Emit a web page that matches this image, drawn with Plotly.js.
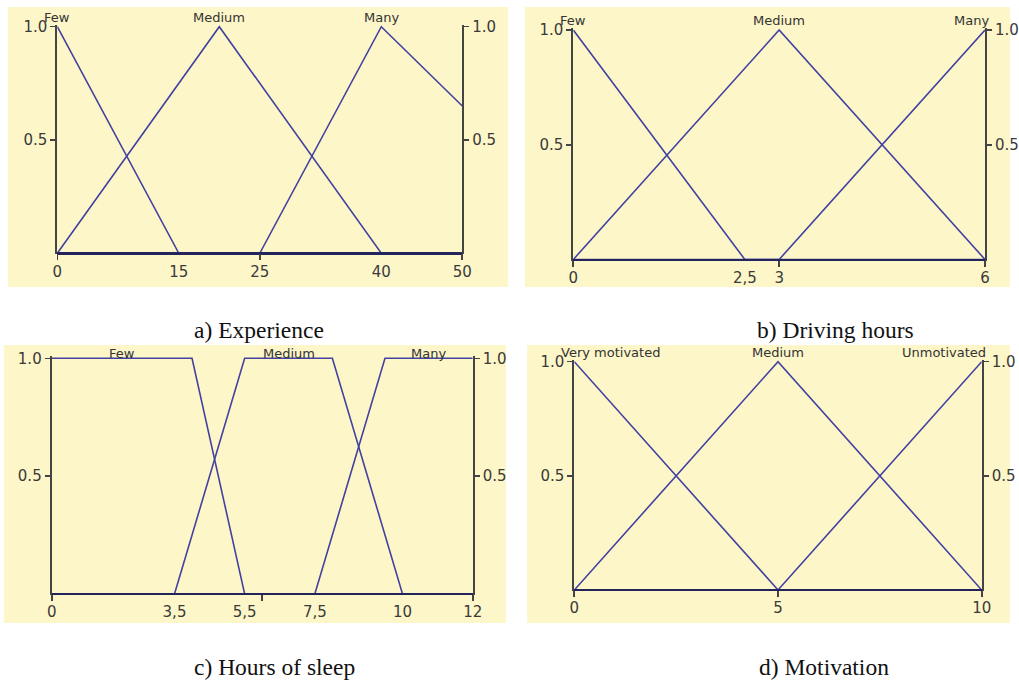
<!DOCTYPE html>
<html>
<head>
<meta charset="utf-8">
<script src="https://cdn.plot.ly/plotly-3.0.1.min.js"></script>
<style>html,body{margin:0;padding:0;background:#fff;}</style>
</head>
<body>
<div id="chart" style="width:1019px;height:681px;"></div>
<script>
// a) Experience — membership functions (years)
const experienceFewX = [0, 15, 50];
const experienceFewY = [1, 0, 0];
const experienceMediumX = [0, 20, 40, 50];
const experienceMediumY = [0, 1, 0, 0];
const experienceManyX = [0, 25, 40, 50];
const experienceManyY = [0, 0, 1, 0.65];
const experienceTicks = [0, 15, 25, 40, 50];
const experienceTickText = ['0', '15', '25', '40', '50'];

// b) Driving hours
const drivingFewX = [0, 2.5, 6];
const drivingFewY = [1, 0, 0];
const drivingMediumX = [0, 3, 6];
const drivingMediumY = [0, 1, 0];
const drivingManyX = [0, 3, 6];
const drivingManyY = [0, 0, 1];
const drivingTicks = [0, 2.5, 3, 6];
const drivingTickText = ['0', '2,5', '3', '6'];

// c) Hours of sleep
const sleepFewX = [0, 4, 5.5, 12];
const sleepFewY = [1, 1, 0, 0];
const sleepMediumX = [0, 3.5, 5.5, 8, 10, 12];
const sleepMediumY = [0, 0, 1, 1, 0, 0];
const sleepManyX = [0, 7.5, 9.5, 12];
const sleepManyY = [0, 0, 1, 1];
const sleepTicks = [0, 3.5, 5.5, 7.5, 10, 12];
const sleepTickText = ['0', '3,5', '5,5', '7,5', '10', '12'];

// d) Motivation
const motivationVeryX = [0, 5, 10];
const motivationVeryY = [1, 0, 0];
const motivationMediumX = [0, 5, 10];
const motivationMediumY = [0, 1, 0];
const motivationUnX = [0, 5, 10];
const motivationUnY = [0, 0, 1];
const motivationTicks = [0, 5, 10];
const motivationTickText = ['0', '5', '10'];

const membershipTicks = [0.5, 1];
const membershipTickText = ['0.5', '1.0'];

const W = 1019, H = 681;
const LINE = '#4242a0';
const AXIS = '#444444';
const PANEL_BG = '#fdf6c8';

// Pixel geometry of each panel: plot box (xL..xR, yT..yB) and its backdrop
const panels = [
  {
    caption: 'a) Experience', capX: 192, capY: 330,
    xL: 57.3, xR: 462.3, yT: 26.7, yB: 253.3,
    bg: [8, 7, 508, 287], labelShift: 0,
    ticks: experienceTicks, tickText: experienceTickText,
    sets: [
      {name: 'Few', x: experienceFewX, y: experienceFewY},
      {name: 'Medium', x: experienceMediumX, y: experienceMediumY},
      {name: 'Many', x: experienceManyX, y: experienceManyY}
    ]
  },
  {
    caption: 'b) Driving hours', capX: 755, capY: 330,
    xL: 573.3, xR: 985, yT: 30, yB: 259.5,
    bg: [525, 7, 1010, 287], labelShift: 0,
    ticks: drivingTicks, tickText: drivingTickText,
    sets: [
      {name: 'Few', x: drivingFewX, y: drivingFewY},
      {name: 'Medium', x: drivingMediumX, y: drivingMediumY},
      {name: 'Many', x: drivingManyX, y: drivingManyY}
    ]
  },
  {
    caption: 'c) Hours of sleep', capX: 192, capY: 667,
    xL: 51.7, xR: 472.7, yT: 358.3, yB: 594,
    bg: [4, 345, 506, 623], labelShift: -5,
    ticks: sleepTicks, tickText: sleepTickText,
    sets: [
      {name: 'Few', x: sleepFewX, y: sleepFewY},
      {name: 'Medium', x: sleepMediumX, y: sleepMediumY},
      {name: 'Many', x: sleepManyX, y: sleepManyY}
    ]
  },
  {
    caption: 'd) Motivation', capX: 757, capY: 667,
    xL: 574.3, xR: 981.7, yT: 361.7, yB: 590,
    bg: [527, 345, 1010, 623], labelShift: 0,
    ticks: motivationTicks, tickText: motivationTickText,
    sets: [
      {name: 'Very motivated', x: motivationVeryX, y: motivationVeryY},
      {name: 'Medium', x: motivationMediumX, y: motivationMediumY},
      {name: 'Unmotivated', x: motivationUnX, y: motivationUnY}
    ]
  }
];

const axKey = (n, a) => (n === 1 ? a + 'axis' : a + 'axis' + n);
const axRef = (n, a) => (n === 1 ? a : a + n);

const traces = [];
const layout = {
  width: W, height: H,
  margin: {l: 0, r: 0, t: 0, b: 0},
  paper_bgcolor: '#ffffff',
  plot_bgcolor: 'rgba(0,0,0,0)',
  showlegend: false,
  shapes: [],
  annotations: [],
  font: {family: 'DejaVu Sans', color: '#333'}
};

panels.forEach((p, k) => {
  const xm = k + 1, xt = k + 5, ym = k + 1, yr = k + 5;
  const xmin = p.ticks[0], xmax = p.ticks[p.ticks.length - 1];
  const span = p.yB - p.yT;
  const xDomain = [p.xL / W, p.xR / W];
  const yDomain = [1 - (p.yB + 1) / H, 1 - (p.yT - 2) / H];
  const yRange = [-1 / span, 1 + 2 / span];
  const basePos = 1 - p.yB / H;

  // panel backdrop
  layout.shapes.push({
    type: 'rect', xref: 'paper', yref: 'paper', layer: 'below',
    x0: p.bg[0] / W, x1: p.bg[2] / W, y0: 1 - p.bg[3] / H, y1: 1 - p.bg[1] / H,
    fillcolor: PANEL_BG, line: {width: 0}
  });

  // x axis with the breakpoint labels
  layout[axKey(xm, 'x')] = {
    domain: xDomain, range: [xmin, xmax], anchor: 'free', position: basePos,
    tickmode: 'array', tickvals: p.ticks, ticktext: p.tickText,
    ticks: 'outside', ticklen: 4, tickcolor: 'rgba(0,0,0,0)',
    showline: true, linecolor: '#24245c', linewidth: 2.4,
    showgrid: false, zeroline: false, fixedrange: true,
    tickfont: {family: 'DejaVu Sans', size: 15, color: '#3a3a3a'}
  };
  // tick marks at both ends and the middle of the universe
  layout[axKey(xt, 'x')] = {
    overlaying: axRef(xm, 'x'), range: [xmin, xmax], anchor: 'free', position: basePos,
    tickmode: 'array', tickvals: [xmin, (xmin + xmax) / 2, xmax],
    ticks: 'outside', ticklen: 6, tickwidth: 1.6, tickcolor: AXIS,
    showticklabels: false, showline: false, showgrid: false, zeroline: false, fixedrange: true
  };
  const yCommon = {
    range: yRange, tickmode: 'array', tickvals: membershipTicks, ticktext: membershipTickText,
    ticks: 'outside', ticklen: 5, tickwidth: 1.5, tickcolor: AXIS,
    showline: true, linecolor: AXIS, linewidth: 2,
    showgrid: false, zeroline: false, fixedrange: true,
    tickfont: {family: 'DejaVu Sans', size: 15, color: '#3a3a3a'}
  };
  layout[axKey(ym, 'y')] = Object.assign({domain: yDomain, anchor: axRef(xm, 'x'), side: 'left'}, yCommon);
  layout[axKey(yr, 'y')] = Object.assign({overlaying: axRef(ym, 'y'), anchor: axRef(xm, 'x'), side: 'right'}, yCommon);

  // placeholders so the overlay axes get drawn
  traces.push({x: [], y: [], type: 'scatter', mode: 'lines', xaxis: axRef(xt, 'x'), yaxis: axRef(ym, 'y'), hoverinfo: 'skip'});
  traces.push({x: [], y: [], type: 'scatter', mode: 'lines', xaxis: axRef(xm, 'x'), yaxis: axRef(yr, 'y'), hoverinfo: 'skip'});

  p.sets.forEach(s => {
    traces.push({
      type: 'scatter', mode: 'lines', name: s.name,
      x: s.x, y: s.y, xaxis: axRef(xm, 'x'), yaxis: axRef(ym, 'y'),
      line: {color: LINE, width: 1.6}, hoverinfo: 'skip'
    });
    // set name above the top of its function
    const top = Math.max(...s.y);
    const tops = s.x.filter((v, i) => s.y[i] === top);
    const cx = (tops[0] + tops[tops.length - 1]) / 2;
    let xanchor = 'center', xshift = 0;
    if (cx === xmin) { xanchor = 'left'; xshift = -15; }
    else if (cx === xmax) { xanchor = 'right'; xshift = 6; }
    layout.annotations.push({
      text: s.name, x: cx, y: top, xref: axRef(xm, 'x'), yref: axRef(ym, 'y'),
      xanchor: xanchor, yanchor: 'bottom', xshift: xshift, yshift: p.labelShift,
      showarrow: false, font: {family: 'DejaVu Sans', size: 13, color: '#333'}
    });
  });

  // caption under the panel
  layout.annotations.push({
    text: p.caption, xref: 'paper', yref: 'paper',
    x: p.capX / W, y: 1 - p.capY / H, xanchor: 'left', yanchor: 'middle',
    showarrow: false, font: {family: 'Liberation Serif', size: 23.5, color: '#111'}
  });
});

Plotly.newPlot('chart', traces, layout, {staticPlot: true, displayModeBar: false});
</script>
</body>
</html>
